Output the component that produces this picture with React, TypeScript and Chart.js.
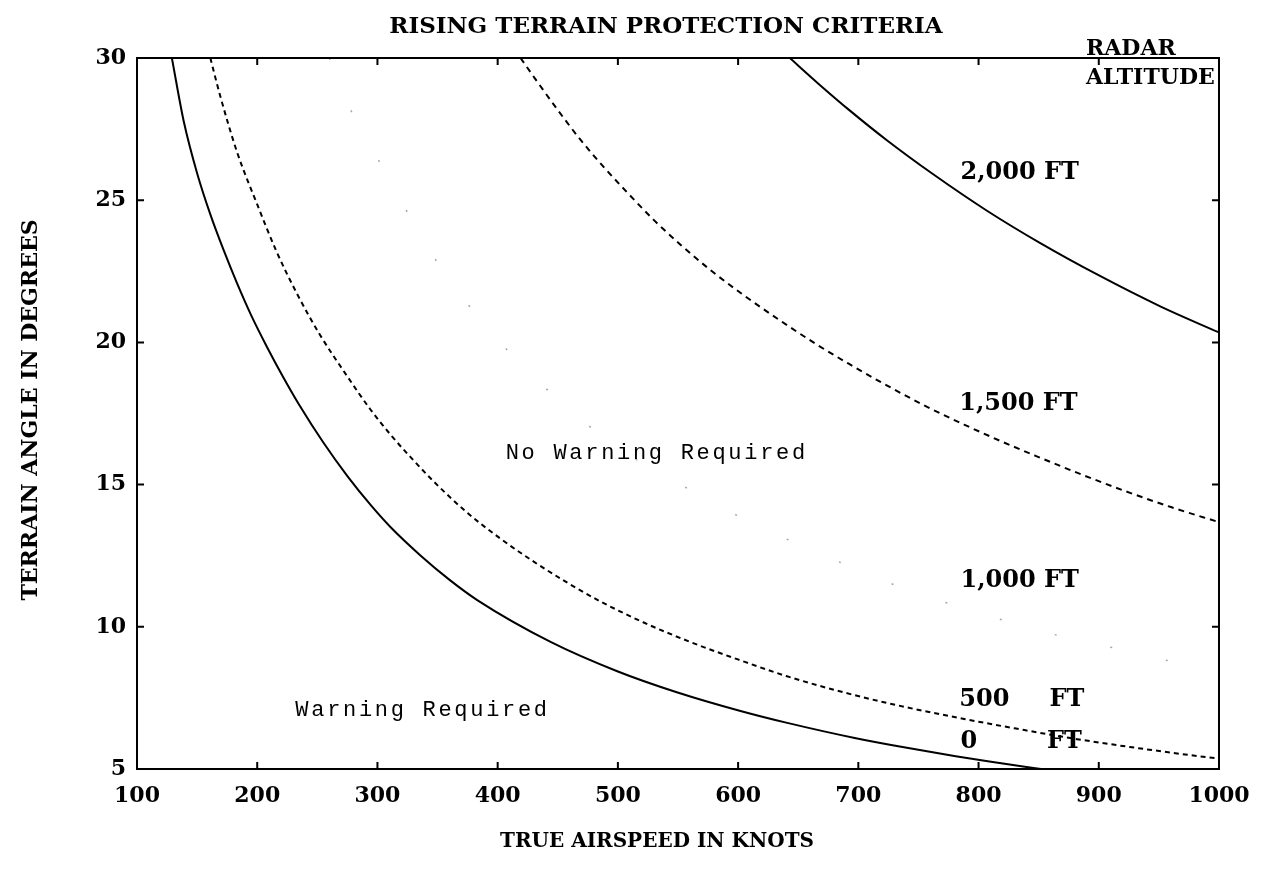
import React, { useEffect, useRef } from "react";
import { Chart, registerables } from "chart.js";

Chart.register(...registerables);

// ---- Axis ticks ----
const xTickValues = [100, 200, 300, 400, 500, 600, 700, 800, 900, 1000];
const yTickValues = [5, 10, 15, 20, 25, 30];

// ---- Curves: true airspeed (knots) vs terrain angle (degrees) ----
const speed0ft = [129, 139, 150, 161, 172, 183, 195, 208, 222, 235, 255, 275, 295, 311, 336, 360, 383, 444, 500, 549, 602, 640, 697, 732, 781, 809, 837, 852];
const angle0ft = [30, 27.75, 25.95, 24.5, 23.25, 22.1, 20.95, 19.85, 18.75, 17.8, 16.48, 15.3, 14.25, 13.5, 12.5, 11.65, 10.94, 9.47, 8.43, 7.7, 7.04, 6.63, 6.09, 5.81, 5.45, 5.26, 5.09, 5.0];

const speed500ft = [161, 169, 183, 200, 216, 233, 252, 275, 294, 311, 327, 347, 375, 402, 430, 458, 486, 521, 560, 602, 640, 690, 739, 788, 830, 882, 935, 991, 1000];
const angle500ft = [30, 28.7, 26.72, 24.85, 23.2, 21.72, 20.28, 18.8, 17.65, 16.75, 15.99, 15.1, 14.0, 13.11, 12.29, 11.55, 10.88, 10.16, 9.47, 8.82, 8.27, 7.67, 7.18, 6.76, 6.43, 6.05, 5.72, 5.41, 5.37];

const speed1000ft = [260, 267, 276, 297, 350, 400, 450, 500, 563, 583, 603, 650, 700, 737, 766, 788, 848, 931, 980, 1000];
const angle1000ft = [30, 29.0, 28.3, 26.7, 22.8, 20.1, 18.0, 16.3, 14.74, 14.25, 13.84, 12.9, 12.0, 11.36, 10.94, 10.66, 9.89, 9.08, 8.59, 8.42];

const speed1500ft = [419, 430, 450, 469, 489, 508, 530, 553, 578, 605, 636, 666, 692, 724, 756, 788, 819, 851, 870, 900, 926, 960, 1000];
const angle1500ft = [30, 29.34, 28.17, 27.12, 26.13, 25.26, 24.3, 23.4, 22.51, 21.65, 20.74, 19.91, 19.25, 18.48, 17.76, 17.11, 16.52, 15.95, 15.62, 15.12, 14.71, 14.21, 13.68];

const speed2000ft = [643, 667, 693, 724, 762, 807, 851, 899, 952, 1000];
const angle2000ft = [30, 29.09, 28.15, 27.1, 25.92, 24.63, 23.5, 22.38, 21.25, 20.35];

// ---- Texts ----
const chartTitle = "RISING TERRAIN PROTECTION CRITERIA";
const xAxisTitle = "TRUE AIRSPEED IN KNOTS";
const yAxisTitle = "TERRAIN ANGLE IN DEGREES";
const legendTitle = ["RADAR", "ALTITUDE"];
const regionLabels = ["No Warning Required", "Warning Required"];
const curveLabels = ["0 FT", "500 FT", "1,000 FT", "1,500 FT", "2,000 FT"];

const SERIF_BOLD = '"DejaVu Serif", "Liberation Serif", serif';
const MONO = '"Liberation Mono", "DejaVu Sans Mono", monospace';

function toPoints(xs: number[], ys: number[]) {
  return xs.map((x, i) => ({ x, y: ys[i] }));
}

const framePlugin = {
  id: "framePlugin",
  afterDraw(chart: any) {
    const { ctx, chartArea, scales } = chart;
    const xs = scales.x;
    const ys = scales.y;
    const { left, right, top, bottom } = chartArea;
    ctx.save();
    ctx.strokeStyle = "#000";
    ctx.lineWidth = 2;
    ctx.strokeRect(left, top, right - left, bottom - top);
    // inward ticks
    const tl = 7;
    ctx.beginPath();
    xTickValues.forEach((v) => {
      const px = xs.getPixelForValue(v);
      ctx.moveTo(px, bottom);
      ctx.lineTo(px, bottom - tl);
      ctx.moveTo(px, top);
      ctx.lineTo(px, top + tl);
    });
    yTickValues.forEach((v) => {
      const py = ys.getPixelForValue(v);
      ctx.moveTo(left, py);
      ctx.lineTo(left + tl, py);
      ctx.moveTo(right, py);
      ctx.lineTo(right - tl, py);
    });
    ctx.stroke();

    ctx.fillStyle = "#000";
    ctx.textAlign = "center";
    ctx.textBaseline = "middle";
    // chart title
    ctx.font = `bold 23px ${SERIF_BOLD}`;
    ctx.fillText(chartTitle, 666, 27);
    // x axis title
    ctx.font = `bold 20px ${SERIF_BOLD}`;
    ctx.fillText(xAxisTitle, 657, 842);
    // y axis title
    ctx.save();
    ctx.font = `bold 22px ${SERIF_BOLD}`;
    ctx.translate(31, 410);
    ctx.rotate(-Math.PI / 2);
    ctx.fillText(yAxisTitle, 0, 0);
    ctx.restore();

    // radar altitude heading
    ctx.font = `bold 22px ${SERIF_BOLD}`;
    ctx.textAlign = "left";
    ctx.fillText(legendTitle[0], 1086, 49);
    ctx.fillText(legendTitle[1], 1086, 78);

    // curve labels
    ctx.font = `bold 24px ${SERIF_BOLD}`;
    const lbl = (text: string, kts: number, deg: number) => {
      ctx.fillText(text, xs.getPixelForValue(kts), ys.getPixelForValue(deg));
    };
    lbl(curveLabels[4], 785, 25.96);
    lbl(curveLabels[3], 784, 17.83);
    lbl(curveLabels[2], 785, 11.61);
    const [n500, ft500] = curveLabels[1].split(" ");
    lbl(n500, 784, 7.45);
    lbl(ft500, 859, 7.45);
    const [n0, ft0] = curveLabels[0].split(" ");
    lbl(n0, 785, 5.95);
    lbl(ft0, 857, 5.95);

    // region labels (typewriter)
    ctx.font = `22px ${MONO}`;
    (ctx as any).letterSpacing = "2.7px";
    ctx.fillStyle = "#000";
    lbl(regionLabels[0], 406.7, 16.11);
    lbl(regionLabels[1], 231.7, 7.07);
    (ctx as any).letterSpacing = "0px";
    ctx.restore();
  },
};

export default function App() {
  const canvasRef = useRef<HTMLCanvasElement>(null);

  useEffect(() => {
    document.body.style.margin = "0";
    const canvas = canvasRef.current;
    if (!canvas) return;
    const solid = { borderColor: "#000", borderWidth: 2, pointRadius: 0, fill: false, cubicInterpolationMode: "monotone" as const };
    const chart = new Chart(canvas, {
      type: "line",
      data: {
        datasets: [
          { label: curveLabels[0], data: toPoints(speed0ft, angle0ft), ...solid },
          { label: curveLabels[1], data: toPoints(speed500ft, angle500ft), ...solid, borderDash: [5, 4] },
          { label: curveLabels[2], data: toPoints(speed1000ft, angle1000ft), ...solid, borderColor: "rgba(0,0,0,0.35)", borderWidth: 1.5, borderDash: [2, 55] },
          { label: curveLabels[3], data: toPoints(speed1500ft, angle1500ft), ...solid, borderDash: [6, 5] },
          { label: curveLabels[4], data: toPoints(speed2000ft, angle2000ft), ...solid },
        ],
      },
      options: {
        responsive: false,
        animation: false,
        layout: { padding: { top: 58, right: 45, left: 0, bottom: 0 } },
        plugins: {
          legend: { display: false },
          tooltip: { enabled: false },
          title: { display: false },
        },
        elements: { point: { radius: 0 } },
        scales: {
          x: {
            type: "linear",
            min: 100,
            max: 1000,
            afterFit: (s: any) => {
              s.height = 110;
            },
            afterBuildTicks: (s: any) => {
              s.ticks = xTickValues.map((v) => ({ value: v }));
            },
            grid: { display: false, drawTicks: false },
            border: { display: false },
            ticks: {
              color: "#000",
              font: { family: SERIF_BOLD, size: 22, weight: "bold" },
              padding: 14,
              maxRotation: 0,
              autoSkip: false,
              callback: (v: any) => String(v),
            },
          },
          y: {
            type: "linear",
            min: 5,
            max: 30,
            afterFit: (s: any) => {
              s.width = 137;
            },
            afterBuildTicks: (s: any) => {
              s.ticks = yTickValues.map((v) => ({ value: v }));
            },
            grid: { display: false, drawTicks: false },
            border: { display: false },
            ticks: {
              color: "#000",
              font: { family: SERIF_BOLD, size: 22, weight: "bold" },
              padding: 11,
              autoSkip: false,
              callback: (v: any) => String(v),
            },
          },
        },
      },
      plugins: [framePlugin],
    });
    return () => chart.destroy();
  }, []);

  return <canvas ref={canvasRef} width={1264} height={879} style={{ display: "block" }} />;
}
